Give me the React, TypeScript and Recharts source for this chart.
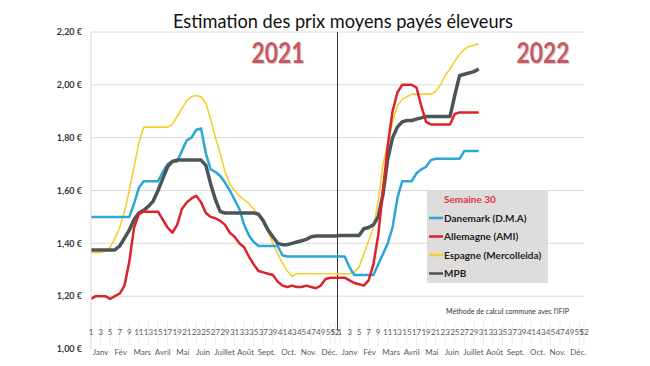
import { CartesianGrid, Legend, Line, LineChart, ReferenceLine, XAxis, YAxis } from "recharts";

const FONT = "Lato, 'Open Sans', sans-serif";

// week labels shown under each year, month names and the week where each name sits
const WEEK_TICKS = [1, 3, 5, 7, 9, 11, 13, 15, 17, 19, 21, 23, 25, 27, 29, 31, 33, 35, 37, 39, 41, 43, 45, 47, 49, 51, 52];
const MONTHS = ["Janv", "Fév", "Mars", "Avril", "Mai", "Juin", "Juillet", "Août", "Sept.", "Oct.", "Nov.", "Déc."];
const MONTH_WEEKS = [3, 7.2, 11.7, 16, 20.2, 24.4, 28.9, 33.3, 37.7, 42.3, 46.5, 50.8];
const PRICE_TICKS = [1, 1.2, 1.4, 1.6, 1.8, 2, 2.2];
const GRID_PRICES = [1.2, 1.4, 1.6, 1.8, 2, 2.2];
const WEEKS_PER_YEAR = 52;
const YEARS_LABELS = [
  { label: "2021", x: 278 },
  { label: "2022", x: 543 },
];

// €/kg, 2021 weeks 1-52 then 2022 weeks 1-30
const DANEMARK_2021 = [
  1.5, 1.5, 1.5, 1.5, 1.5, 1.5, 1.5, 1.5, 1.5, 1.55,
  1.61, 1.635, 1.635, 1.635, 1.635, 1.67, 1.7, 1.71, 1.71, 1.75,
  1.79, 1.8, 1.83, 1.835, 1.74, 1.68, 1.67, 1.655, 1.63, 1.6,
  1.565, 1.53, 1.47, 1.43, 1.405, 1.39, 1.39, 1.39, 1.39, 1.39,
  1.355, 1.35, 1.35, 1.35, 1.35, 1.35, 1.35, 1.35, 1.35, 1.35,
  1.35, 1.35,
];
const DANEMARK_2022 = [
  1.35, 1.35, 1.31, 1.28, 1.28, 1.28, 1.28, 1.28, 1.32, 1.36,
  1.4, 1.46, 1.57, 1.635, 1.635, 1.635, 1.665, 1.68, 1.69, 1.715,
  1.72, 1.72, 1.72, 1.72, 1.72, 1.72, 1.75, 1.75, 1.75, 1.75,
];
const ALLEMAGNE_2021 = [
  1.19, 1.2, 1.2, 1.2, 1.19, 1.2, 1.21, 1.24, 1.33, 1.46,
  1.51, 1.52, 1.52, 1.52, 1.52, 1.49, 1.46, 1.44, 1.47, 1.53,
  1.555, 1.57, 1.58, 1.555, 1.515, 1.5, 1.495, 1.485, 1.47, 1.44,
  1.425, 1.4, 1.385, 1.35, 1.32, 1.295, 1.29, 1.285, 1.28, 1.255,
  1.24, 1.235, 1.24, 1.235, 1.235, 1.24, 1.235, 1.23, 1.24, 1.265,
  1.27, 1.27,
];
const ALLEMAGNE_2022 = [
  1.27, 1.27, 1.26, 1.25, 1.245, 1.24, 1.26, 1.32, 1.43, 1.6,
  1.77, 1.9, 1.97, 2, 2, 2, 1.99, 1.92, 1.86, 1.85,
  1.85, 1.85, 1.85, 1.85, 1.89, 1.895, 1.895, 1.895, 1.895, 1.895,
];
const ESPAGNE_2021 = [
  1.365, 1.365, 1.365, 1.37, 1.385, 1.42, 1.46, 1.52, 1.6, 1.69,
  1.78, 1.84, 1.84, 1.84, 1.84, 1.84, 1.84, 1.85, 1.88, 1.91,
  1.94, 1.955, 1.96, 1.955, 1.93, 1.87, 1.8, 1.74, 1.67, 1.625,
  1.6, 1.58, 1.565, 1.55, 1.53, 1.51, 1.48, 1.445, 1.4, 1.36,
  1.325, 1.295, 1.275, 1.285, 1.285, 1.285, 1.285, 1.285, 1.285, 1.285,
  1.285, 1.285,
];
const ESPAGNE_2022 = [
  1.285, 1.285, 1.285, 1.29, 1.31, 1.36, 1.41, 1.46, 1.56, 1.7,
  1.78, 1.86, 1.92, 1.945, 1.955, 1.965, 1.965, 1.965, 1.965, 1.965,
  1.975, 2, 2.035, 2.06, 2.09, 2.115, 2.135, 2.145, 2.15, 2.155,
];
const MPB_2021 = [
  1.375, 1.375, 1.375, 1.375, 1.375, 1.375, 1.39, 1.42, 1.45, 1.49,
  1.515, 1.525, 1.54, 1.56, 1.6, 1.645, 1.69, 1.71, 1.715, 1.715,
  1.715, 1.715, 1.715, 1.715, 1.695, 1.625, 1.565, 1.52, 1.515, 1.515,
  1.515, 1.515, 1.515, 1.515, 1.515, 1.51, 1.485, 1.45, 1.425, 1.4,
  1.395, 1.395, 1.4, 1.405, 1.41, 1.415, 1.425, 1.428, 1.428, 1.428,
  1.428, 1.428,
];
const MPB_2022 = [
  1.43, 1.43, 1.43, 1.43, 1.43, 1.455, 1.46, 1.47, 1.5, 1.585,
  1.72, 1.8, 1.84, 1.86, 1.865, 1.865, 1.87, 1.875, 1.88, 1.88,
  1.88, 1.88, 1.88, 1.88, 1.96, 2.035, 2.04, 2.045, 2.05, 2.06,
];

const DANEMARK = [...DANEMARK_2021, ...DANEMARK_2022];
const ALLEMAGNE = [...ALLEMAGNE_2021, ...ALLEMAGNE_2022];
const ESPAGNE = [...ESPAGNE_2021, ...ESPAGNE_2022];
const MPB = [...MPB_2021, ...MPB_2022];

const SERIES = [
  { key: "danemark", name: "Danemark (D.M.A)", color: "#2ba6d6", width: 2.5 },
  { key: "allemagne", name: "Allemagne (AMI)", color: "#dc222a", width: 2.5 },
  { key: "espagne", name: "Espagne (Mercolleida)", color: "#f3d02f", width: 1.6 },
  { key: "mpb", name: "MPB", color: "#4b5457", width: 3.5 },
];
const DRAW_ORDER = ["espagne", "danemark", "mpb", "allemagne"];

const data = DANEMARK.map((v, i) => ({
  week: i + 1,
  danemark: v,
  allemagne: ALLEMAGNE[i],
  espagne: ESPAGNE[i],
  mpb: MPB[i],
}));

const weekTicks = [...WEEK_TICKS, ...WEEK_TICKS.map((w) => w + WEEKS_PER_YEAR)];
const monthTicks = [...MONTH_WEEKS, ...MONTH_WEEKS.map((w) => w + WEEKS_PER_YEAR)];

// axis top sits on the 1,00 € line; labels are drawn above it like the original
function WeekTick({ x, y, payload }: any) {
  const label = ((payload.value - 1) % WEEKS_PER_YEAR) + 1;
  return (
    <g>
      <line x1={x} x2={x} y1={y - 27} y2={y - 4} stroke="#ececec" />
      <text x={x} y={y - 14} textAnchor="middle" fontSize={8} fill="#595959" fontFamily={FONT}>
        {label}
      </text>
    </g>
  );
}

function MonthTick({ x, y, index }: any) {
  return (
    <text x={x} y={y + 5} textAnchor="middle" fontSize={8} fill="#595959" fontFamily={FONT}>
      {MONTHS[index % MONTHS.length]}
    </text>
  );
}

function LegendBox({ payload }: any) {
  const items = [...(payload || [])].sort(
    (a: any, b: any) =>
      SERIES.findIndex((s) => s.key === a.dataKey) - SERIES.findIndex((s) => s.key === b.dataKey)
  );
  return (
    <svg width={121} height={92} style={{ display: "block", background: "#dedddc" }}>
      <text x={17} y={12} fontSize={10} fontWeight={700} fill="#e0353b" fontFamily={FONT}>
        Semaine 30
      </text>
      {items.map((item: any, i: number) => (
        <g key={item.dataKey}>
          <line x1={2} x2={16} y1={27 + i * 18.5} y2={27 + i * 18.5} stroke={item.color} strokeWidth={2.5} />
          <text x={17} y={30.5 + i * 18.5} fontSize={10} fontWeight={700} fill="#1e1e1e" fontFamily={FONT}>
            {item.value}
          </text>
        </g>
      ))}
    </svg>
  );
}

export default function App() {
  return (
    <div style={{ position: "absolute", left: 0, top: 0, width: 650, height: 366, background: "#fff" }}>
      <LineChart width={650} height={366} data={data} margin={{ top: 32, right: 66, bottom: 15, left: 0 }}>
        <CartesianGrid horizontal vertical={false} horizontalValues={GRID_PRICES} stroke="#dadada" />
        <XAxis
          dataKey="week"
          type="number"
          domain={[1, 104]}
          allowDataOverflow
          ticks={weekTicks}
          interval={0}
          height={1}
          tickSize={0}
          tickMargin={0}
          axisLine={false}
          tickLine={false}
          tick={<WeekTick />}
        />
        <XAxis
          xAxisId="months"
          dataKey="week"
          type="number"
          domain={[1, 104]}
          allowDataOverflow
          ticks={monthTicks}
          interval={0}
          height={1}
          tickSize={0}
          tickMargin={0}
          axisLine={false}
          tickLine={false}
          tick={<MonthTick />}
        />
        <YAxis
          width={91}
          domain={[1, 2.2]}
          ticks={PRICE_TICKS}
          interval={0}
          tickSize={0}
          tickMargin={9}
          axisLine={{ stroke: "#d6d6d6" }}
          tickLine={false}
          tickFormatter={(v: number) => `${v.toFixed(2).replace(".", ",")} €`}
          tick={{ fontSize: 9, fontWeight: 700, fill: "#3a3a3a", fontFamily: FONT }}
        />
        <ReferenceLine
          segment={[
            { x: WEEKS_PER_YEAR + 0.5, y: 2.2 },
            { x: WEEKS_PER_YEAR + 0.5, y: 1.07 },
          ]}
          stroke="#333"
          strokeWidth={1}
        />
        {DRAW_ORDER.map((key) => {
          const s = SERIES.find((x) => x.key === key)!;
          return (
            <Line
              key={s.key}
              type="linear"
              dataKey={s.key}
              name={s.name}
              stroke={s.color}
              strokeWidth={s.width}
              dot={false}
              activeDot={false}
              isAnimationActive={false}
              strokeLinejoin="round"
            />
          );
        })}
        <Legend
          layout="vertical"
          align="center"
          verticalAlign="middle"
          content={<LegendBox />}
          wrapperStyle={{ left: 427, top: 191, width: 121, height: 92 }}
        />
      </LineChart>
      <svg width={650} height={366} style={{ position: "absolute", left: 0, top: 0, pointerEvents: "none" }}>
        <text x={343} y={28} textAnchor="middle" fontSize={20} fill="#111" fontFamily={FONT} textLength={340} lengthAdjust="spacingAndGlyphs">
          Estimation des prix moyens payés éleveurs
        </text>
        {YEARS_LABELS.map((y) => (
          <g key={y.label}>
            <text x={y.x + 1} y={64} textAnchor="middle" fontSize={28} fontWeight={700} fill="#9a9a9a" opacity={0.45} fontFamily={FONT} textLength={53} lengthAdjust="spacingAndGlyphs">
              {y.label}
            </text>
            <text x={y.x} y={63} textAnchor="middle" fontSize={28} fontWeight={700} fill="#cc5660" fontFamily={FONT} textLength={53} lengthAdjust="spacingAndGlyphs">
              {y.label}
            </text>
          </g>
        ))}
        <text x={446} y={314} fontSize={7.5} fill="#333" fontFamily={FONT} textLength={123} lengthAdjust="spacingAndGlyphs">
          Méthode de calcul commune avec l'IFIP
        </text>
      </svg>
    </div>
  );
}
